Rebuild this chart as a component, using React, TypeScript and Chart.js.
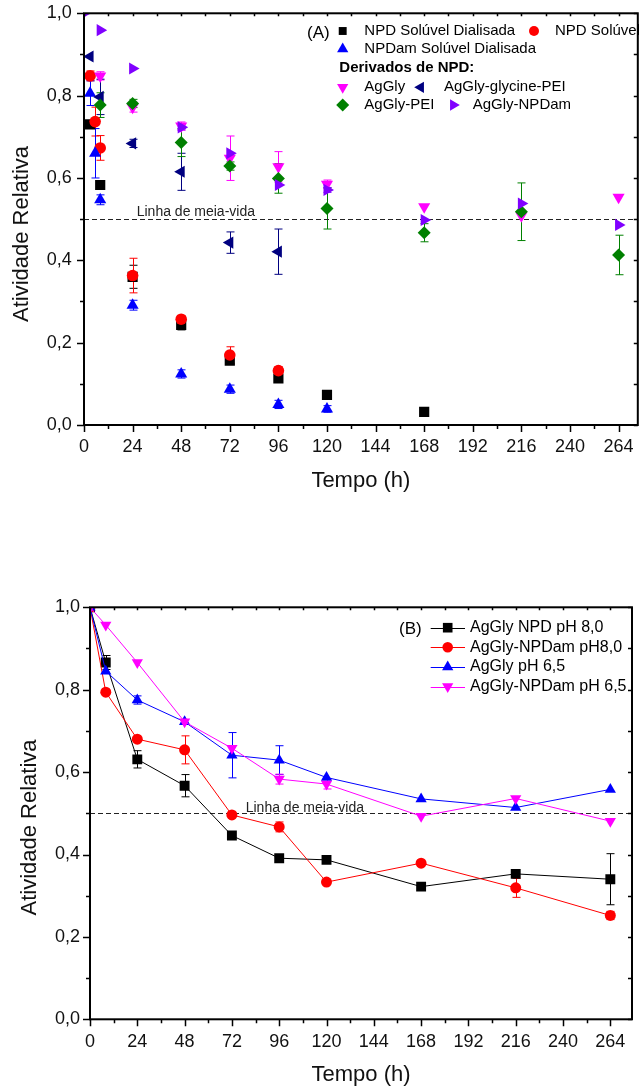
import React, { useEffect, useRef } from 'react';
import { Chart, registerables } from 'chart.js';

Chart.register(...registerables);

const FONT = "'Liberation Sans', Arial, Helvetica, sans-serif";

// ---------------- Panel A data ----------------
const labelsA = [
  'NPD Solúvel Dialisada',
  'NPD Solúvel',
  'NPDam Solúvel Dialisada',
  'AgGly',
  'AgGly-glycine-PEI',
  'AgGly-PEI',
  'AgGly-NPDam',
];

const npdDialTimes = [3, 8, 24, 48, 72, 96, 120, 168];
const npdDialValues = [0.73, 0.583, 0.36, 0.243, 0.156, 0.113, 0.073, 0.032];
const npdDialErrors = [0, 0, 0.028, 0.012, 0.008, 0, 0, 0];

const npdSolTimes = [3, 5.5, 8, 24, 48, 72, 96];
const npdSolValues = [0.848, 0.737, 0.673, 0.363, 0.257, 0.17, 0.132];
const npdSolErrors = [0.012, 0.035, 0.03, 0.042, 0.008, 0.02, 0.01];

const npdamDialTimes = [3, 5.5, 8, 24, 48, 72, 96, 120];
const npdamDialValues = [0.806, 0.66, 0.547, 0.291, 0.124, 0.087, 0.05, 0.039];
const npdamDialErrors = [0.03, 0.06, 0.012, 0.012, 0.01, 0.01, 0.01, 0.008];

const agGlyTimes = [8, 24, 48, 72, 96, 120, 168, 216, 264];
const agGlyValues = [0.848, 0.772, 0.726, 0.648, 0.627, 0.585, 0.53, 0.508, 0.553];
const agGlyErrors = [0.01, 0.012, 0.01, 0.054, 0.037, 0.01, 0, 0, 0];

const glycinePeiTimes = [3, 8, 24, 48, 72, 96];
const glycinePeiValues = [0.895, 0.797, 0.684, 0.615, 0.443, 0.421];
const glycinePeiErrors = [0, 0.043, 0.01, 0.045, 0.026, 0.055];

const agGlyPeiTimes = [8, 24, 48, 72, 96, 120, 168, 216, 264];
const agGlyPeiValues = [0.777, 0.781, 0.686, 0.629, 0.599, 0.526, 0.467, 0.518, 0.413];
const agGlyPeiErrors = [0.03, 0.01, 0.034, 0.01, 0.036, 0.05, 0.022, 0.07, 0.048];

const agGlyNpdamTimes = [0, 8, 24, 48, 72, 96, 120, 168, 216, 264];
const agGlyNpdamValues = [1.0, 0.959, 0.866, 0.723, 0.66, 0.583, 0.571, 0.498, 0.538, 0.486];
const agGlyNpdamErrors = [0, 0, 0, 0.006, 0, 0, 0.006, 0, 0, 0];

// ---------------- Panel B data ----------------
const labelsB = ['AgGly NPD pH 8,0', 'AgGly-NPDam pH8,0', 'AgGly pH 6,5', 'AgGly-NPDam pH 6,5'];
const timesB = [0, 8, 24, 48, 72, 96, 120, 168, 216, 264];
const npd80Values = [1.0, 0.866, 0.631, 0.567, 0.446, 0.391, 0.387, 0.322, 0.353, 0.34];
const npd80Errors = [0, 0.017, 0.021, 0.027, 0, 0, 0, 0, 0, 0.062];
const npdam80Values = [1.0, 0.794, 0.68, 0.654, 0.496, 0.467, 0.333, 0.379, 0.319, 0.252];
const npdam80Errors = [0, 0, 0, 0.034, 0, 0.012, 0, 0, 0.023, 0.01];
const agGly65Values = [1.0, 0.845, 0.775, 0.722, 0.641, 0.629, 0.587, 0.535, 0.514, 0.558];
const agGly65Errors = [0, 0, 0.01, 0, 0.055, 0.035, 0, 0, 0, 0];
const npdam65Values = [1.0, 0.957, 0.866, 0.722, 0.658, 0.583, 0.571, 0.493, 0.536, 0.481];
const npdam65Errors = [0, 0, 0, 0, 0, 0.012, 0.012, 0, 0, 0];

// ---------------- Axes ----------------
const xTickValues = [0, 24, 48, 72, 96, 120, 144, 168, 192, 216, 240, 264];
const yTickValues = [0, 0.2, 0.4, 0.6, 0.8, 1.0];
const halfLife = 0.5;
const halfLifeLabel = 'Linha de meia-vida';
const xTitle = 'Tempo (h)';
const yTitle = 'Atividade Relativa';

const pts = (t: number[], v: number[]) => t.map((x, i) => ({ x, y: v[i] }));

function drawMarker(ctx: any, style: string, rot: number, x: number, y: number, r: number, color: string) {
  ctx.save();
  ctx.fillStyle = color;
  ctx.beginPath();
  if (style === 'rect') {
    const s = r * Math.SQRT1_2;
    ctx.rect(x - s, y - s, 2 * s, 2 * s);
  } else if (style === 'circle') {
    ctx.arc(x, y, r, 0, Math.PI * 2);
  } else if (style === 'rectRot') {
    ctx.moveTo(x, y - r);
    ctx.lineTo(x + r, y);
    ctx.lineTo(x, y + r);
    ctx.lineTo(x - r, y);
    ctx.closePath();
  } else {
    let a = (rot * Math.PI) / 180;
    ctx.moveTo(x + Math.sin(a) * r, y - Math.cos(a) * r);
    a += (2 * Math.PI) / 3;
    ctx.lineTo(x + Math.sin(a) * r, y - Math.cos(a) * r);
    a += (2 * Math.PI) / 3;
    ctx.lineTo(x + Math.sin(a) * r, y - Math.cos(a) * r);
    ctx.closePath();
  }
  ctx.fill();
  ctx.restore();
}

const errorBars = {
  id: 'errorBars',
  beforeDatasetsDraw(chart: any) {
    const { ctx } = chart;
    const yS = chart.scales.y;
    ctx.save();
    chart.data.datasets.forEach((ds: any, i: number) => {
      const errs = ds.errors;
      if (!errs) return;
      const meta = chart.getDatasetMeta(i);
      meta.data.forEach((pt: any, j: number) => {
        const e = errs[j];
        if (!e) return;
        const v = ds.data[j].y;
        const t = yS.getPixelForValue(v + e);
        const b = yS.getPixelForValue(v - e);
        const x = Math.round(pt.x) + 0.5;
        ctx.strokeStyle = ds.borderColor;
        ctx.lineWidth = 1;
        ctx.beginPath();
        ctx.moveTo(x, t);
        ctx.lineTo(x, b);
        ctx.moveTo(x - 4, t);
        ctx.lineTo(x + 4, t);
        ctx.moveTo(x - 4, b);
        ctx.lineTo(x + 4, b);
        ctx.stroke();
      });
    });
    ctx.restore();
  },
};

function makeDecor(opts: any) {
  return {
    id: 'decor' + opts.name,
    beforeDatasetsDraw(chart: any) {
      const { ctx, chartArea: ca } = chart;
      const yS = chart.scales.y;
      const y = Math.round(yS.getPixelForValue(halfLife)) + 0.5;
      ctx.save();
      ctx.strokeStyle = '#222';
      ctx.lineWidth = 1;
      ctx.setLineDash([5, 3]);
      ctx.beginPath();
      ctx.moveTo(ca.left, y);
      ctx.lineTo(ca.right, y);
      ctx.stroke();
      ctx.setLineDash([]);
      ctx.fillStyle = '#222';
      ctx.font = `14px ${FONT}`;
      ctx.textBaseline = 'alphabetic';
      ctx.textAlign = 'left';
      ctx.fillText(halfLifeLabel, opts.labelX, y - opts.labelGap);
      ctx.restore();
    },
    afterDraw(chart: any) {
      const { ctx, chartArea: ca } = chart;
      const xS = chart.scales.x;
      const yS = chart.scales.y;
      ctx.save();
      ctx.strokeStyle = '#000';
      ctx.lineWidth = 1.5;
      for (let t = 0; t <= xS.max; t += 12) {
        const major = t % 24 === 0;
        const px = Math.round(xS.getPixelForValue(t)) + 0.5;
        ctx.beginPath();
        ctx.moveTo(px, ca.bottom);
        ctx.lineTo(px, ca.bottom + (major ? 7 : 4));
        ctx.moveTo(px, ca.top);
        ctx.lineTo(px, ca.top + 3);
        ctx.stroke();
      }
      for (let k = 0; k <= 10; k++) {
        const v = k / 10;
        const major = k % 2 === 0;
        const py = Math.round(yS.getPixelForValue(v)) + 0.5;
        ctx.beginPath();
        ctx.moveTo(ca.left, py);
        ctx.lineTo(ca.left - (major ? 7 : 4), py);
        ctx.moveTo(ca.right, py);
        ctx.lineTo(ca.right - 4, py);
        ctx.stroke();
      }
      ctx.lineWidth = 2;
      ctx.strokeRect(ca.left, ca.top, ca.right - ca.left, ca.bottom - ca.top);
      ctx.fillStyle = '#111';
      ctx.font = `22px ${FONT}`;
      ctx.textAlign = 'center';
      ctx.textBaseline = 'middle';
      ctx.translate(opts.yTitleX, opts.yTitleY);
      ctx.rotate(-Math.PI / 2);
      ctx.fillText(yTitle, 0, 0);
      ctx.restore();
      opts.legend(ctx, chart);
    },
  };
}

function legendA(ctx: any, chart: any) {
  const ds = chart.data.datasets;
  ctx.save();
  ctx.fillStyle = '#000';
  ctx.textAlign = 'left';
  ctx.textBaseline = 'middle';
  ctx.font = `17px ${FONT}`;
  ctx.fillText('(A)', 307, 33);
  const items = [
    { i: 0, mx: 342.7, y: 31, tx: 364.3, r: 5.6 },
    { i: 1, mx: 534, y: 31, tx: 555, r: 5 },
    { i: 2, mx: 342.7, y: 49, tx: 364.3, r: 6.5 },
    { i: 3, mx: 342.7, y: 87.3, tx: 364.3, r: 6.5 },
    { i: 4, mx: 420.7, y: 87.3, tx: 444, r: 6.5 },
    { i: 5, mx: 342.7, y: 105, tx: 364.3, r: 6.5 },
    { i: 6, mx: 453.3, y: 105, tx: 472.7, r: 6.5 },
  ];
  ctx.font = `15px ${FONT}`;
  items.forEach((it) => {
    const d = ds[it.i];
    drawMarker(ctx, d.pointStyle, d.pointRotation || 0, it.mx, it.y, it.r, d.borderColor);
    ctx.fillStyle = '#000';
    ctx.fillText(d.label, it.tx, it.y);
  });
  ctx.font = `bold 15px ${FONT}`;
  ctx.fillText('Derivados de NPD:', 339.3, 68.3);
  ctx.restore();
}

function legendB(ctx: any, chart: any) {
  const ds = chart.data.datasets;
  ctx.save();
  ctx.fillStyle = '#000';
  ctx.textAlign = 'left';
  ctx.textBaseline = 'middle';
  ctx.font = `17px ${FONT}`;
  ctx.fillText('(B)', 399, 84.3);
  ctx.font = `16px ${FONT}`;
  ds.forEach((d: any, i: number) => {
    const y = 82.7 + i * 19.6;
    ctx.strokeStyle = d.borderColor;
    ctx.lineWidth = 1;
    ctx.beginPath();
    ctx.moveTo(430.7, Math.round(y) + 0.5);
    ctx.lineTo(465, Math.round(y) + 0.5);
    ctx.stroke();
    drawMarker(ctx, d.pointStyle, d.pointRotation || 0, 447.7, y, d.pointStyle === 'circle' ? 5.3 : d.pointStyle === 'rect' ? 6.8 : 6.5, d.borderColor);
    ctx.fillStyle = '#000';
    ctx.fillText(d.label, 470, y);
  });
  ctx.restore();
}

function mkScales(xMax: number, xAxisH: number, yAxisW: number, yPad: number, titlePadBottom: number) {
  const tickFont = { size: 18, family: FONT };
  return {
    x: {
      type: 'linear',
      min: 0,
      max: xMax,
      afterFit: (s: any) => {
        s.height = xAxisH;
        s.paddingLeft = 0;
        s.paddingRight = 0;
      },
      afterBuildTicks: (s: any) => {
        s.ticks = xTickValues.map((value) => ({ value }));
      },
      grid: { display: false, drawTicks: false },
      border: { display: false },
      ticks: {
        font: tickFont,
        color: '#111',
        padding: 11.5,
        autoSkip: false,
        maxRotation: 0,
        includeBounds: false,
        callback: (v: any) => String(v),
      },
      title: {
        display: true,
        text: xTitle,
        font: { size: 22, family: FONT },
        color: '#111',
        padding: { top: 0, bottom: titlePadBottom },
      },
    },
    y: {
      type: 'linear',
      min: 0,
      max: 1,
      afterFit: (s: any) => {
        s.width = yAxisW;
        s.paddingTop = 0;
        s.paddingBottom = 0;
      },
      afterBuildTicks: (s: any) => {
        s.ticks = yTickValues.map((value) => ({ value }));
      },
      grid: { display: false, drawTicks: false },
      border: { display: false },
      ticks: {
        font: tickFont,
        color: '#111',
        padding: yPad,
        callback: (v: any) => Number(v).toFixed(1).replace('.', ','),
      },
    },
  };
}

function ds(label: string, data: any[], errors: number[], color: string, style: string, rot: number, r: number, order: number, line = false) {
  return {
    label,
    data,
    errors,
    borderColor: color,
    backgroundColor: color,
    pointBackgroundColor: color,
    pointBorderColor: color,
    pointBorderWidth: 0,
    pointStyle: style,
    pointRotation: rot,
    pointRadius: r,
    showLine: line,
    borderWidth: 1,
    clip: 0,
    order,
  };
}

function configA() {
  const datasets = [
    ds(labelsA[0], pts(npdDialTimes, npdDialValues), npdDialErrors, '#000000', 'rect', 0, 7.2, 0),
    ds(labelsA[1], pts(npdSolTimes, npdSolValues), npdSolErrors, '#ff0000', 'circle', 0, 5.8, -1),
    ds(labelsA[2], pts(npdamDialTimes, npdamDialValues), npdamDialErrors, '#0000ff', 'triangle', 0, 7, -2),
    ds(labelsA[3], pts(agGlyTimes, agGlyValues), agGlyErrors, '#ff00ff', 'triangle', 180, 7, -3),
    ds(labelsA[4], pts(glycinePeiTimes, glycinePeiValues), glycinePeiErrors, '#000080', 'triangle', -90, 7, -4),
    ds(labelsA[5], pts(agGlyPeiTimes, agGlyPeiValues), agGlyPeiErrors, '#008000', 'rectRot', 0, 6.5, -5),
    ds(labelsA[6], pts(agGlyNpdamTimes, agGlyNpdamValues), agGlyNpdamErrors, '#8000ff', 'triangle', 90, 7, -6),
  ];
  return {
    type: 'scatter',
    data: { datasets },
    options: {
      animation: false,
      responsive: false,
      events: [],
      layout: { padding: { top: 13.3, right: 4, left: 0, bottom: 0 } },
      plugins: { legend: { display: false }, tooltip: { enabled: false } },
      scales: mkScales(273.5, 120, 84, 12.3, 50.8),
    },
    plugins: [
      errorBars,
      makeDecor({ name: 'A', labelX: 136.7, labelGap: 4, yTitleX: 21.5, yTitleY: 234, legend: legendA }),
    ],
  };
}

function configB() {
  const datasets = [
    ds(labelsB[0], pts(timesB, npd80Values), npd80Errors, '#000000', 'rect', 0, 7, 0, true),
    ds(labelsB[1], pts(timesB, npdam80Values), npdam80Errors, '#ff0000', 'circle', 0, 5.5, -1, true),
    ds(labelsB[2], pts(timesB, agGly65Values), agGly65Errors, '#0000ff', 'triangle', 0, 6.5, -2, true),
    ds(labelsB[3], pts(timesB, npdam65Values), npdam65Errors, '#ff00ff', 'triangle', 180, 6.5, -3, true),
  ];
  return {
    type: 'scatter',
    data: { datasets },
    options: {
      animation: false,
      responsive: false,
      events: [],
      layout: { padding: { top: 62.3, right: 2, left: 0, bottom: 0 } },
      plugins: { legend: { display: false }, tooltip: { enabled: false } },
      scales: mkScales(275, 70.7, 90, 10, 1.8),
    },
    plugins: [
      errorBars,
      makeDecor({ name: 'B', labelX: 245.7, labelGap: 1.5, yTitleX: 30, yTitleY: 282.5, legend: legendB }),
    ],
  };
}

function Panel({ make, width, height, top }: any) {
  const ref = useRef<HTMLCanvasElement>(null);
  useEffect(() => {
    const chart = new Chart(ref.current as any, make() as any);
    return () => chart.destroy();
  }, []);
  return (
    <canvas
      ref={ref}
      width={width}
      height={height}
      style={{ position: 'absolute', left: 0, top, width, height }}
    />
  );
}

export default function App() {
  return (
    <div
      style={{
        position: 'absolute',
        left: 0,
        top: 0,
        width: 639,
        height: 1090,
        overflow: 'hidden',
        background: '#fff',
      }}
    >
      <Panel make={configA} width={645} height={545} top={0} />
      <Panel make={configB} width={639} height={545} top={545} />
    </div>
  );
}
